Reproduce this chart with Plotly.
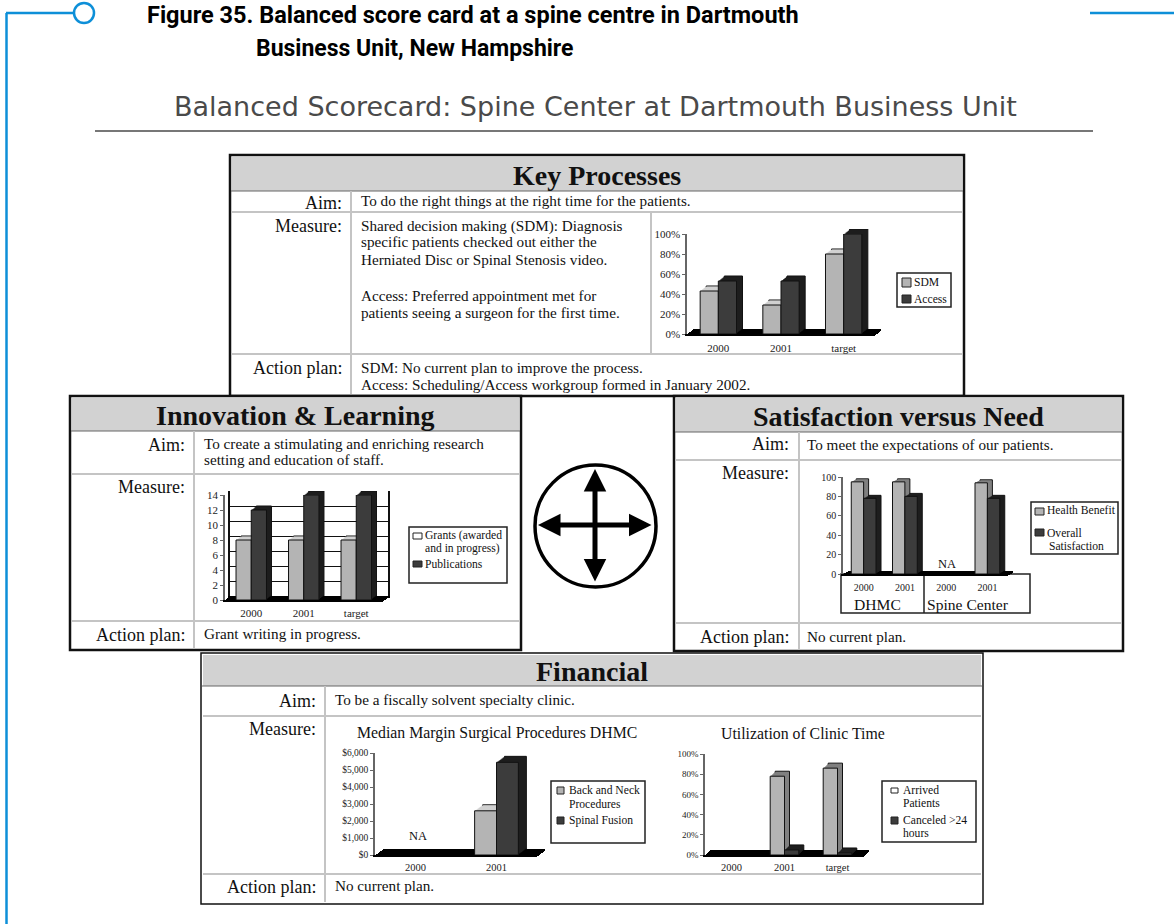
"""Balanced scorecard figure: panels drawn on a pixel canvas, bar charts on real axes."""

import plotly.graph_objects as go

W, H = 1174, 924
SERIF = "Liberation Serif"
LIGHT, DARK = "#b4b4b4", "#3c3c3c"
BODY, LABEL, TITLE, LEG = 15.2, 18, 28, 11.6

# Key Processes
kp_years = ["2000", "2001", "target"]
kp_sdm = [43, 29, 80]
kp_access = [53, 53, 100]
kp_ticks = [0, 20, 40, 60, 80, 100]
kp_ticktext = ["0%", "20%", "40%", "60%", "80%", "100%"]

# Innovation & Learning
il_years = ["2000", "2001", "target"]
il_grants = [8, 8, 8]
il_pubs = [12, 14, 14]
il_ticks = [0, 2, 4, 6, 8, 10, 12, 14]

# Satisfaction versus Need
sn_groups = ["DHMC 2000", "DHMC 2001", "Spine 2000", "Spine 2001"]
sn_labels = ["2000", "2001", "2000", "2001"]
sn_health = [95, 95, None, 94]
sn_overall = [78, 80, None, 78]
sn_ticks = [0, 20, 40, 60, 80, 100]

# Financial: margin
fm_years = ["2000", "2001"]
fm_back = [None, 2600]
fm_fusion = [None, 5450]
fm_ticks = [0, 1000, 2000, 3000, 4000, 5000, 6000]
fm_ticktext = ["$0", "$1,000", "$2,000", "$3,000", "$4,000", "$5,000", "$6,000"]

# Financial: clinic time
fu_years = ["2000", "2001", "target"]
fu_arrived = [None, 78, 86]
fu_canceled = [None, 5, 2]


def sx(x):
    return x / W


def sy(y):
    return 1 - y / H


shapes = []
annotations = []


def rect(x0, y0, x1, y1, fill=None, line="black", width=2):
    shapes.append(dict(
        type="rect", xref="paper", yref="paper", layer="below",
        x0=sx(x0), x1=sx(x1), y0=sy(y0), y1=sy(y1),
        fillcolor=fill or "rgba(0,0,0,0)",
        line=dict(color=line, width=width),
    ))


def hline(x0, x1, y, color="#c4c4c4", width=2):
    shapes.append(dict(type="line", xref="paper", yref="paper", layer="below",
                       x0=sx(x0), x1=sx(x1), y0=sy(y), y1=sy(y),
                       line=dict(color=color, width=width)))


def vline(x, y0, y1, color="#c4c4c4", width=2):
    shapes.append(dict(type="line", xref="paper", yref="paper", layer="below",
                       x0=sx(x), x1=sx(x), y0=sy(y0), y1=sy(y1),
                       line=dict(color=color, width=width)))


def text(x, y, s, size=BODY, anchor="left", color="#111111", family=SERIF):
    annotations.append(dict(
        xref="paper", yref="paper", x=sx(x), y=sy(y), text=s, showarrow=False,
        xanchor=anchor, yanchor="middle", borderpad=0,
        font=dict(family=family, size=size, color=color),
    ))


def legend_box(box, entries):
    """entries: (swatch colour, swatch x0, y0, x1, y1, [(text, x, y), ...])"""
    rect(*box, fill="white", line="#222222", width=1.5)
    for color, x0, y0, x1, y1, lines in entries:
        rect(x0, y0, x1, y1, fill=color, line="#222222", width=1)
        for s, x, y in lines:
            text(x, y, s, size=LEG)


def panel(x0, y0, x1, y1, header_bottom, title, border=2.5):
    rect(x0, y0, x1, y1, fill="white", line="#111111", width=border)
    rect(x0 + 2, y0 + 2, x1 - 2, header_bottom, fill="#d2d2d2", line="#d2d2d2", width=0)
    hline(x0 + 1, x1 - 1, header_bottom, color="#666666", width=1)
    text((x0 + x1) / 2, (y0 + header_bottom) / 2 + 2, "<b>%s</b>" % title, size=TITLE, anchor="center")


# decoration + headings
blue = "#0d8fd8"
vline(6.5, 13, H, color=blue, width=2.5)
hline(6, 74, 13, color=blue, width=2.5)
hline(1090, W, 13, color=blue, width=2.5)
shapes.append(dict(type="circle", xref="paper", yref="paper", layer="below",
                   x0=sx(74), x1=sx(94), y0=sy(23), y1=sy(3), line=dict(color=blue, width=2.5)))
HEAD = "Roboto"
text(146, 15, "<b>Figure 35. Balanced score card at a spine centre in Dartmouth</b>", size=23.5, color="black", family=HEAD)
text(255, 48, "<b>Business Unit, New Hampshire</b>", size=23, color="black", family=HEAD)
text(595, 106, "Balanced Scorecard: Spine Center at Dartmouth Business Unit", size=27, anchor="center",
     color="#4a4a4a", family="DejaVu Sans")
hline(95, 1093, 131, color="#777777", width=2)

# Key Processes
panel(230, 155, 964, 396, 191, "Key Processes")
hline(232, 963, 212)
hline(232, 963, 354)
vline(351, 191, 396)
vline(651, 212, 354)
text(343, 203, "Aim:", LABEL, "right")
text(360, 201, "To do the right things at the right time for the patients.")
text(343, 226, "Measure:", LABEL, "right")
for yy, s in [(226, "Shared decision making (SDM): Diagnosis"),
              (242, "specific patients checked out either the"),
              (259, "Herniated Disc or Spinal Stenosis video."),
              (295, "Access: Preferred appointment met for"),
              (312, "patients seeing a surgeon for the first time.")]:
    text(360, yy, s)
text(343, 368, "Action plan:", LABEL, "right")
text(360, 367, "SDM: No current plan to improve the process.")
text(360, 384, "Access: Scheduling/Access workgroup formed in January 2002.")
legend_box((897, 273, 951, 307), [
    (LIGHT, 902, 278, 911, 287, [("SDM", 913, 282)]),
    (DARK, 902, 295, 911, 303, [("Access", 913, 299)]),
])

# Innovation & Learning
panel(70, 396, 521, 650, 431, "Innovation &amp; Learning")
hline(72, 519, 474)
hline(72, 519, 621)
vline(194, 431, 648)
text(186, 445, "Aim:", LABEL, "right")
text(203, 443, "To create a stimulating and enriching research")
text(203, 459, "setting and education of staff.")
text(186, 487, "Measure:", LABEL, "right")
text(186, 635, "Action plan:", LABEL, "right")
text(203, 633, "Grant writing in progress.")
legend_box((409, 527, 507, 583), [
    ("white", 413, 533, 422, 539, [("Grants (awarded", 424, 535), ("and in progress)", 424, 548)]),
    (DARK, 413, 561, 422, 567, [("Publications", 424, 564)]),
])

# Satisfaction versus Need
panel(674, 396, 1123, 651, 432, "Satisfaction versus Need")
hline(676, 1121, 460)
hline(676, 1121, 623)
vline(799, 432, 649)
text(790, 444, "Aim:", LABEL, "right")
text(806, 444, "To meet the expectations of our patients.")
text(790, 473, "Measure:", LABEL, "right")
text(790, 637, "Action plan:", LABEL, "right")
text(806, 636, "No current plan.")
rect(841, 574, 1030, 613, fill="white", line="#222222", width=1.5)
vline(924, 574, 613, color="#222222", width=1.5)
text(877, 604, "DHMC", 15.6, "center")
text(968, 604, "Spine Center", 15.6, "center")
text(947, 564, "NA", 12.5, "center")
legend_box((1031, 502, 1118, 554), [
    (LIGHT, 1035, 508, 1044, 515, [("Health Benefit", 1046, 511)]),
    (DARK, 1035, 529, 1044, 536, [("Overall", 1046, 533), ("Satisfaction", 1048, 546)]),
])

# Financial
panel(201, 653, 983, 904, 686, "Financial", border=1.5)
hline(203, 981, 716)
hline(203, 981, 874)
vline(325, 686, 902)
text(317, 701, "Aim:", LABEL, "right")
text(334, 699, "To be a fiscally solvent specialty clinic.")
text(317, 729, "Measure:", LABEL, "right")
text(317, 887, "Action plan:", LABEL, "right")
text(334, 885, "No current plan.")
text(497, 733, "Median Margin Surgical Procedures DHMC", 15.8, "center")
text(803, 733, "Utilization of Clinic Time", 15.8, "center")
text(418, 836, "NA", 12.5, "center")
legend_box((551, 781, 645, 843), [
    (LIGHT, 557, 787, 564, 794, [("Back and Neck", 568, 790), ("Procedures", 568, 804)]),
    (DARK, 557, 817, 564, 824, [("Spinal Fusion", 568, 820)]),
])
legend_box((882, 781, 976, 842), [
    ("white", 891, 788, 898, 793, [("Arrived", 902, 790), ("Patients", 902, 803)]),
    (DARK, 891, 817, 898, 824, [("Canceled &gt;24", 902, 820), ("hours", 902, 833)]),
])

# centre compass
shapes.append(dict(type="circle", xref="paper", yref="paper", layer="below",
                   x0=sx(535), x1=sx(656), y0=sy(587), y1=sy(465), line=dict(color="black", width=3.5)))
for hx, hy, ax, ay in [(595, 469, 0, 114), (538, 525, 115, 0)]:
    annotations.append(dict(
        xref="paper", yref="paper", x=sx(hx), y=sy(hy), ax=ax, ay=ay, text="",
        showarrow=True, arrowhead=2, arrowside="end+start", arrowsize=0.9, arrowwidth=5, arrowcolor="black",
    ))

fig = go.Figure()

# front plot box in px, depth dx/dy, categories, series, y range, ticks, fonts
charts = [
    dict(box=(687, 234, 875, 334), dx=6, dy=5, cats=kp_years, labels=kp_years,
         series=[(kp_sdm, LIGHT, "#d0d0d0"), (kp_access, DARK, "#1e1e1e")],
         yrange=100, ticks=kp_ticks, ticktext=kp_ticktext, xfont=11, yfont=11, width=0.29, grid=False, xgap=3),
    dict(box=(225, 495, 382.5, 600), dx=5, dy=4, cats=il_years, labels=il_years,
         series=[(il_grants, LIGHT, "#d0d0d0"), (il_pubs, DARK, "#1e1e1e")],
         yrange=14, ticks=il_ticks, ticktext=[str(t) for t in il_ticks], xfont=11, yfont=11, width=0.29, grid=True, xgap=2),
    dict(box=(843, 477, 1008, 574), dx=5, dy=3, cats=sn_groups, labels=sn_labels,
         series=[(sn_health, LIGHT, "#808080"), (sn_overall, DARK, "#1e1e1e")],
         yrange=100, ticks=sn_ticks, ticktext=[str(t) for t in sn_ticks], xfont=10, yfont=10, width=0.3, grid=False, xgap=3),
    dict(box=(375, 753, 537, 855), dx=8, dy=6, cats=fm_years, labels=fm_years,
         series=[(fm_back, LIGHT, "#d0d0d0"), (fm_fusion, DARK, "#1e1e1e")],
         yrange=6000, ticks=fm_ticks, ticktext=fm_ticktext, xfont=10.5, yfont=9.5, width=0.27, grid=False, xgap=1),
    dict(box=(705, 754, 864, 855), dx=5, dy=5, cats=fu_years, labels=fu_years,
         series=[(fu_arrived, LIGHT, "#808080"), (fu_canceled, DARK, "#1e1e1e")],
         yrange=100, ticks=kp_ticks, ticktext=kp_ticktext, xfont=10.5, yfont=9, width=0.27, grid=False, xgap=1),
]

axis_no = 0
layout_axes = {}
for c in charts:
    x0, y0, x1, y1 = c["box"]
    steps = max(c["dx"], c["dy"])
    n = len(c["cats"])
    # stack of shifted copies, deepest first, gives the extruded look
    for k in range(steps, -1, -1):
        axis_no += 1
        xn, yn = "x%d" % axis_no, "y%d" % axis_no
        ox = k * c["dx"] / steps
        oy = k * c["dy"] / steps
        front = k == 0
        back = k == steps
        grid = c["grid"] and back
        layout_axes["xaxis%d" % axis_no] = dict(
            domain=[sx(x0 + ox), sx(x1 + ox)], anchor=yn,
            type="category", categoryorder="array", categoryarray=c["cats"],
            range=[-0.5, n - 0.5], fixedrange=True,
            showgrid=False, zeroline=False,
            showline=True, linecolor="black", linewidth=2,
            tickmode="array", tickvals=c["cats"], ticktext=c["labels"],
            showticklabels=front, ticks="outside" if front else "", ticklen=c["xgap"], tickcolor="rgba(0,0,0,0)",
            tickfont=dict(family=SERIF, size=c["xfont"], color="#222222"), tickangle=0,
        )
        layout_axes["yaxis%d" % axis_no] = dict(
            domain=[sy(y1 - oy), sy(y0 - oy)], anchor=xn,
            range=[0, c["yrange"]], fixedrange=True, zeroline=False,
            showgrid=grid, gridcolor="#111111", gridwidth=1,
            showline=front or grid, linecolor="#666666" if front else "#111111", linewidth=1.5, mirror=grid,
            tickmode="array", tickvals=c["ticks"], ticktext=c["ticktext"],
            showticklabels=front, ticks="outside" if front else "", ticklen=3, tickcolor="#666666",
            tickfont=dict(family=SERIF, size=c["yfont"], color="#222222"),
        )
        for i, (values, face, side) in enumerate(c["series"]):
            fig.add_trace(go.Bar(
                x=c["cats"], y=values, xaxis=xn, yaxis=yn, width=c["width"],
                offset=(i - 1) * c["width"],
                marker=dict(color=face if front else side,
                            line=dict(color="#111111", width=1 if front or back else 0)),
                showlegend=False, hoverinfo="skip",
            ))

fig.update_layout(
    width=W, height=H, margin=dict(l=0, r=0, t=0, b=0, autoexpand=False), barmode="group",
    paper_bgcolor="white", plot_bgcolor="rgba(0,0,0,0)",
    shapes=shapes, annotations=annotations, **layout_axes,
)
fig.write_html("out.html", config={"displayModeBar": False},
               post_script="document.body.style.margin='0';document.body.style.overflow='hidden';")
